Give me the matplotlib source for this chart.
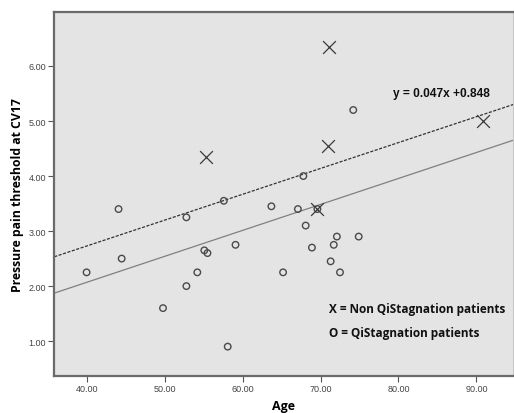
import numpy as np
from matplotlib import pyplot as plt

# dados
idade_o = [44.1, 52.8, 57.6, 44.5, 40.0, 55.1, 55.5, 59.1, 54.2, 52.8, 49.8, 58.1,
           63.7, 67.1, 69.6, 68.1, 72.1, 74.9, 71.7, 68.9, 71.3, 65.2, 72.5, 74.2, 67.8]
dor_o = [3.40, 3.25, 3.55, 2.50, 2.25, 2.65, 2.60, 2.75, 2.25, 2.00, 1.60, 0.90,
         3.45, 3.40, 3.40, 3.10, 2.90, 2.90, 2.75, 2.70, 2.45, 2.25, 2.25, 5.20, 4.00]
idade_x = [55.3, 71.1, 70.9, 69.6, 90.8]
dor_x = [4.35, 6.35, 4.55, 3.40, 5.00]

# retas (inclinacao, intercepto)
reta_tracejada = (0.047, 0.848)
reta_solida = (0.0472, 0.18)

xticks = [40, 50, 60, 70, 80, 90]
yticks = [1, 2, 3, 4, 5, 6]

fig = plt.figure(figsize=(5.14, 4.14), dpi=100)
ax = fig.add_axes([0.1055, 0.0905, 0.8935, 0.878])
ax.set_facecolor("#e4e4e4")
ax.set_xlim(35.85, 94.75)
ax.set_ylim(0.375, 6.98)

xs = np.array(ax.get_xlim())
ax.plot(xs, reta_tracejada[0]*xs + reta_tracejada[1], color="#333333", linewidth=0.9,
        linestyle=(0, (2.5, 1.2)), zorder=2)
ax.plot(xs, reta_solida[0]*xs + reta_solida[1], color="#808080", linewidth=0.9, zorder=2)

ax.scatter(idade_o, dor_o, s=22, facecolors="none", edgecolors="#4a4a4a", linewidths=1.0, zorder=3)
ax.scatter(idade_x, dor_x, s=85, marker='x', color="#3a3a3a", linewidths=0.9, zorder=3)

ax.text(79.3, 5.51, "y = 0.047x +0.848", fontsize=8.6, fontweight="bold",
        family="Liberation Sans", va="center", ha="left", color="#111111")
ax.text(71.1, 1.586, "X = Non QiStagnation patients", fontsize=8.5, fontweight="bold",
        family="Open Sans", va="center", ha="left", color="#111111")
ax.text(71.1, 1.163, "O = QiStagnation patients", fontsize=8.5, fontweight="bold",
        family="Open Sans", va="center", ha="left", color="#111111")

ax.set_xticks(xticks)
ax.set_xticklabels([f"{v:.2f}" for v in xticks])
ax.set_yticks(yticks)
ax.set_yticklabels([f"{v:.2f}" for v in yticks])
for lab in ax.get_xticklabels() + ax.get_yticklabels():
    lab.set_family("Liberation Sans")
    lab.set_fontsize(6.5)
    lab.set_color("#444444")
ax.tick_params(direction="out", length=4, width=0.8, color="#555555", pad=2)

for s in ax.spines.values():
    s.set_color("#6a6a6a")
    s.set_linewidth(1.6)
ax.spines["right"].set_linewidth(0.6)
ax.spines["right"].set_color("#bbbbbb")

ax.set_xlabel("Age", fontsize=9, fontweight="bold", family="Open Sans", labelpad=4.5)
ax.set_ylabel("Pressure pain threshold at CV17", fontsize=8.8, fontweight="bold",
              family="Open Sans", labelpad=3)

plt.savefig("out.png", dpi=100)
plt.close()
